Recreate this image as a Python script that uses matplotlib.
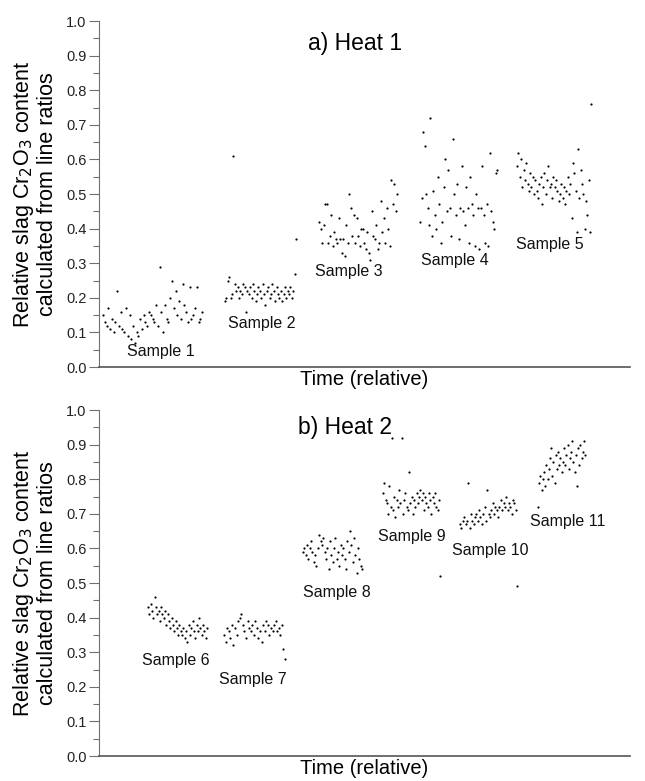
import numpy as np
import matplotlib.pyplot as plt
from matplotlib.ticker import MultipleLocator

plt.rcParams['font.family'] = ['Liberation Sans', 'DejaVu Sans']

# Heat 1: relative Cr2O3 content per sample (time spans in relative units)
s1 = [0.15, 0.13, 0.12, 0.17, 0.11, 0.14, 0.10, 0.13, 0.22, 0.12, 0.16, 0.11, 0.10, 0.17, 0.09,
      0.15, 0.08, 0.12, 0.07, 0.10, 0.09, 0.14, 0.11, 0.15, 0.13, 0.12, 0.16, 0.15, 0.14, 0.13,
      0.18, 0.12, 0.29, 0.16, 0.10, 0.18, 0.14, 0.13, 0.20, 0.25, 0.17, 0.22, 0.15, 0.19, 0.14,
      0.24, 0.18, 0.16, 0.13, 0.23, 0.14, 0.15, 0.17, 0.23, 0.13, 0.14, 0.16]
s2 = [0.19, 0.20, 0.25, 0.26, 0.20, 0.21, 0.61, 0.24, 0.22, 0.23, 0.20, 0.22, 0.21, 0.24, 0.23,
      0.16, 0.22, 0.21, 0.23, 0.20, 0.24, 0.22, 0.19, 0.21, 0.23, 0.22, 0.20, 0.24, 0.21, 0.18,
      0.22, 0.23, 0.20, 0.21, 0.24, 0.22, 0.19, 0.23, 0.21, 0.20, 0.22, 0.19, 0.21, 0.23, 0.20,
      0.22, 0.21, 0.23, 0.20, 0.22, 0.27, 0.37]
s3 = [0.42, 0.40, 0.36, 0.41, 0.47, 0.47, 0.36, 0.38, 0.44, 0.35, 0.39, 0.37, 0.36, 0.43, 0.37,
      0.33, 0.37, 0.32, 0.41, 0.36, 0.50, 0.46, 0.38, 0.44, 0.36, 0.43, 0.38, 0.35, 0.40, 0.40,
      0.36, 0.34, 0.39, 0.33, 0.31, 0.45, 0.38, 0.37, 0.41, 0.34, 0.36, 0.48, 0.39, 0.43, 0.36,
      0.46, 0.40, 0.35, 0.54, 0.47, 0.53, 0.45, 0.50]
s4 = [0.42, 0.49, 0.68, 0.64, 0.50, 0.46, 0.41, 0.72, 0.38, 0.51, 0.44, 0.40, 0.55, 0.47, 0.36,
      0.42, 0.52, 0.60, 0.45, 0.57, 0.46, 0.38, 0.66, 0.50, 0.44, 0.53, 0.37, 0.46, 0.58, 0.45,
      0.41, 0.52, 0.46, 0.36, 0.55, 0.47, 0.44, 0.35, 0.50, 0.46, 0.34, 0.46, 0.58, 0.44, 0.36,
      0.47, 0.35, 0.62, 0.45, 0.42, 0.40, 0.56, 0.57]
s5 = [0.58, 0.62, 0.55, 0.60, 0.52, 0.57, 0.54, 0.59, 0.53, 0.51, 0.56, 0.52, 0.55, 0.50, 0.54,
      0.51, 0.49, 0.53, 0.55, 0.47, 0.52, 0.56, 0.50, 0.54, 0.58, 0.52, 0.53, 0.49, 0.55, 0.52,
      0.54, 0.51, 0.48, 0.50, 0.53, 0.49, 0.52, 0.47, 0.51, 0.55, 0.50, 0.53, 0.43, 0.59, 0.56,
      0.51, 0.39, 0.63, 0.49, 0.57, 0.53, 0.50, 0.40, 0.48, 0.44, 0.54, 0.39, 0.76]

# Heat 2
s6 = [0.43, 0.41, 0.44, 0.42, 0.40, 0.46, 0.43, 0.41, 0.42, 0.39, 0.43, 0.41, 0.40, 0.42, 0.38,
      0.41, 0.39, 0.37, 0.40, 0.38, 0.36, 0.39, 0.37, 0.35, 0.38, 0.36, 0.35, 0.37, 0.34, 0.36,
      0.33, 0.38, 0.35, 0.37, 0.39, 0.36, 0.34, 0.38, 0.36, 0.40, 0.37, 0.35, 0.38, 0.36, 0.34, 0.37]
s7 = [0.35, 0.33, 0.37, 0.36, 0.34, 0.38, 0.32, 0.37, 0.35, 0.39, 0.40, 0.41, 0.38, 0.36, 0.34,
      0.39, 0.37, 0.36, 0.38, 0.35, 0.39, 0.37, 0.34, 0.36, 0.33, 0.38, 0.36, 0.39, 0.38, 0.35,
      0.37, 0.36, 0.38, 0.39, 0.36, 0.37, 0.35, 0.38, 0.31, 0.28]
s8 = [0.59, 0.60, 0.58, 0.61, 0.57, 0.60, 0.62, 0.59, 0.56, 0.58, 0.55, 0.60, 0.64, 0.62, 0.61,
      0.63, 0.59, 0.57, 0.60, 0.54, 0.62, 0.58, 0.56, 0.60, 0.63, 0.57, 0.59, 0.55, 0.61, 0.58,
      0.60, 0.57, 0.54, 0.62, 0.59, 0.65, 0.61, 0.56, 0.63, 0.58, 0.53, 0.60, 0.57, 0.55, 0.54]
s9 = [0.76, 0.79, 0.74, 0.73, 0.70, 0.78, 0.72, 0.92, 0.71, 0.75, 0.69, 0.74, 0.72, 0.77, 0.73,
      0.92, 0.70, 0.74, 0.76, 0.72, 0.71, 0.82, 0.73, 0.75, 0.70, 0.74, 0.72, 0.76, 0.73, 0.75,
      0.77, 0.74, 0.76, 0.71, 0.75, 0.73, 0.72, 0.76, 0.74, 0.70, 0.75, 0.73, 0.76, 0.72, 0.71,
      0.74, 0.52]
s10 = [0.67, 0.66, 0.68, 0.69, 0.67, 0.68, 0.79, 0.66, 0.70, 0.68, 0.67, 0.69, 0.70, 0.68, 0.71,
       0.69, 0.67, 0.70, 0.72, 0.68, 0.77, 0.70, 0.69, 0.71, 0.73, 0.70, 0.72, 0.71, 0.69, 0.72,
       0.74, 0.71, 0.73, 0.72, 0.75, 0.71, 0.73, 0.72, 0.70, 0.74, 0.73, 0.71, 0.49]
s11 = [0.72, 0.79, 0.81, 0.77, 0.80, 0.82, 0.78, 0.84, 0.80, 0.83, 0.86, 0.89, 0.81, 0.85, 0.79,
       0.87, 0.83, 0.88, 0.84, 0.86, 0.82, 0.85, 0.89, 0.84, 0.87, 0.90, 0.83, 0.86, 0.88, 0.91,
       0.85, 0.82, 0.87, 0.78, 0.89, 0.84, 0.90, 0.86, 0.88, 0.91, 0.87]

heat1 = [s1, s2, s3, s4, s5]
heat2 = [s6, s7, s8, s9, s10, s11]
# start / end of each sample on relative time axis
spans1 = [(4, 103), (126, 197), (220, 298), (321, 398), (418, 492)]
spans2 = [(49, 108), (125, 186), (204, 263), (284, 341), (361, 418), (439, 486)]
labels1 = ['Sample 1', 'Sample 2', 'Sample 3', 'Sample 4', 'Sample 5']
labels2 = ['Sample 6', 'Sample 7', 'Sample 8', 'Sample 9', 'Sample 10', 'Sample 11']
# label anchor (x, y) in data units
lab_pos1 = [(62, 0.046), (163, 0.127), (250, 0.275), (356, 0.309), (451, 0.353)]
lab_pos2 = [(77, 0.277), (154, 0.220), (238, 0.474), (313, 0.634), (391, 0.595), (469, 0.678)]

fig = plt.figure(figsize=(6.45, 7.81), dpi=100)
ax1 = fig.add_axes([0.1535, 0.530, 0.8235, 0.443])
ax2 = fig.add_axes([0.1535, 0.032, 0.8235, 0.443])

ylab = 'Relative slag Cr$_2$O$_3$ content\ncalculated from line ratios'

def draw(ax, data, spans, labels, pos, title, tx, ty):
    for ys, (a, b), lab, (lx, ly) in zip(data, spans, labels, pos):
        xs = np.linspace(a, b, len(ys))
        ax.scatter(xs, ys, s=2.5, color='black', linewidths=0)
        ax.text(lx, ly, lab, ha='center', va='center', fontsize=11.5, color='#111111')
    ax.set_xlim(0, 531)
    ax.set_ylim(0, 1.0)
    ax.set_xticks([])
    ax.yaxis.set_major_locator(MultipleLocator(0.1))
    ax.yaxis.set_minor_locator(MultipleLocator(0.05))
    ax.tick_params(axis='y', which='major', length=7, width=0.8, color='#707070',
                   labelsize=10.5, labelcolor='#222222', direction='out', pad=2)
    ax.tick_params(axis='y', which='minor', length=4, width=0.8, color='#707070', direction='out')
    ax.yaxis.set_major_formatter(plt.FormatStrFormatter('%.1f'))
    for sp in ['top', 'right']:
        ax.spines[sp].set_visible(False)
    ax.spines['left'].set_color('#707070')
    ax.spines['bottom'].set_color('#555555')
    ax.spines['bottom'].set_linewidth(1.2)
    ax.set_xlabel('Time (relative)', fontsize=14.5, labelpad=2)
    ax.set_ylabel(ylab, fontsize=15.5, labelpad=6, linespacing=1.05)
    ax.text(tx, ty, title, ha='center', va='center', fontsize=16.5)

draw(ax1, heat1, spans1, labels1, lab_pos1, 'a) Heat 1', 256, 0.936)
draw(ax2, heat2, spans2, labels2, lab_pos2, 'b) Heat 2', 246, 0.950)

fig.savefig('out.png', dpi=100)
